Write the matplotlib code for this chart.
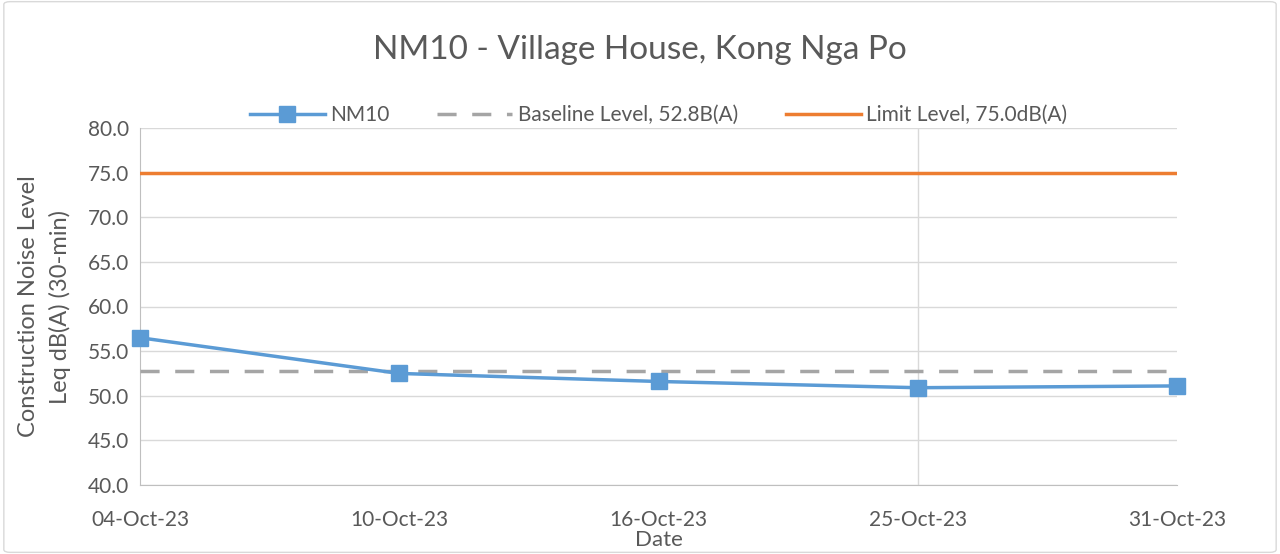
import matplotlib.pyplot as plt
from matplotlib.patches import FancyBboxPatch

dates = ["04-Oct-23", "10-Oct-23", "16-Oct-23", "25-Oct-23", "31-Oct-23"]
nm10 = [56.5, 52.5, 51.6, 50.9, 51.1]
baseline = [52.8, 52.8, 52.8, 52.8, 52.8]
limit = [75.0, 75.0, 75.0, 75.0, 75.0]

plt.rcParams['font.family'] = ['Lato', 'DejaVu Sans']
txt = '#595959'

fig = plt.figure(figsize=(12.8, 5.54), dpi=100)
ax = fig.add_axes([140 / 1280, 1 - 485 / 554, (1177 - 140) / 1280, (485 - 128) / 554])

# chart border
fig.patches.append(FancyBboxPatch((0.003, 0.003), 0.994, 0.994, boxstyle="round,pad=0,rounding_size=0.005",
                                  transform=fig.transFigure, fill=False, ec='#d9d9d9', lw=1))

x = list(range(len(dates)))
ax.plot(x, nm10, color='#5B9BD5', lw=2.5, marker='s', ms=11, label='NM10', zorder=4, clip_on=False)
ax.plot(x, baseline, color='#A5A5A5', lw=2.5, ls=(0, (5.5, 4.5)), label='Baseline Level, 52.8B(A)', zorder=3)
ax.plot(x, limit, color='#ED7D31', lw=2.5, label='Limit Level, 75.0dB(A)', zorder=3)

ax.set_xlim(0, len(dates) - 1)
ax.set_ylim(40, 80)
ax.set_yticks([40 + 5 * i for i in range(9)])
ax.set_yticklabels(['%.1f' % (40 + 5 * i) for i in range(9)])
ax.set_xticks(x)
ax.set_xticklabels(dates)
ax.grid(axis='y', color='#d9d9d9', lw=1)
ax.axvline(3, color='#d9d9d9', lw=1, zorder=1)
ax.set_axisbelow(True)

for s in ['top', 'right']:
    ax.spines[s].set_visible(False)
for s in ['left', 'bottom']:
    ax.spines[s].set_color('#bfbfbf')
ax.tick_params(axis='both', length=0, colors=txt, labelsize=15)
ax.tick_params(axis='x', pad=18)
ax.tick_params(axis='y', pad=8)

ax.set_xlabel('Date', color=txt, fontsize=16, labelpad=0)
ax.set_ylabel('Construction Noise Level\nLeq dB(A) (30-min)', color=txt, fontsize=17, labelpad=12,
              linespacing=1.55)

fig.text(0.5, 1 - 50 / 554, 'NM10 - Village House, Kong Nga Po', ha='center', va='center', color=txt, fontsize=24)
ax.legend(loc='center', bbox_to_anchor=(0.5, (128 - 115) / 357 + 1), ncol=3, frameon=False,
          fontsize=15, labelcolor=txt, handlelength=3.6, handletextpad=0.25, columnspacing=2.3,
          borderaxespad=0)

fig.savefig('out.png', dpi=100)
